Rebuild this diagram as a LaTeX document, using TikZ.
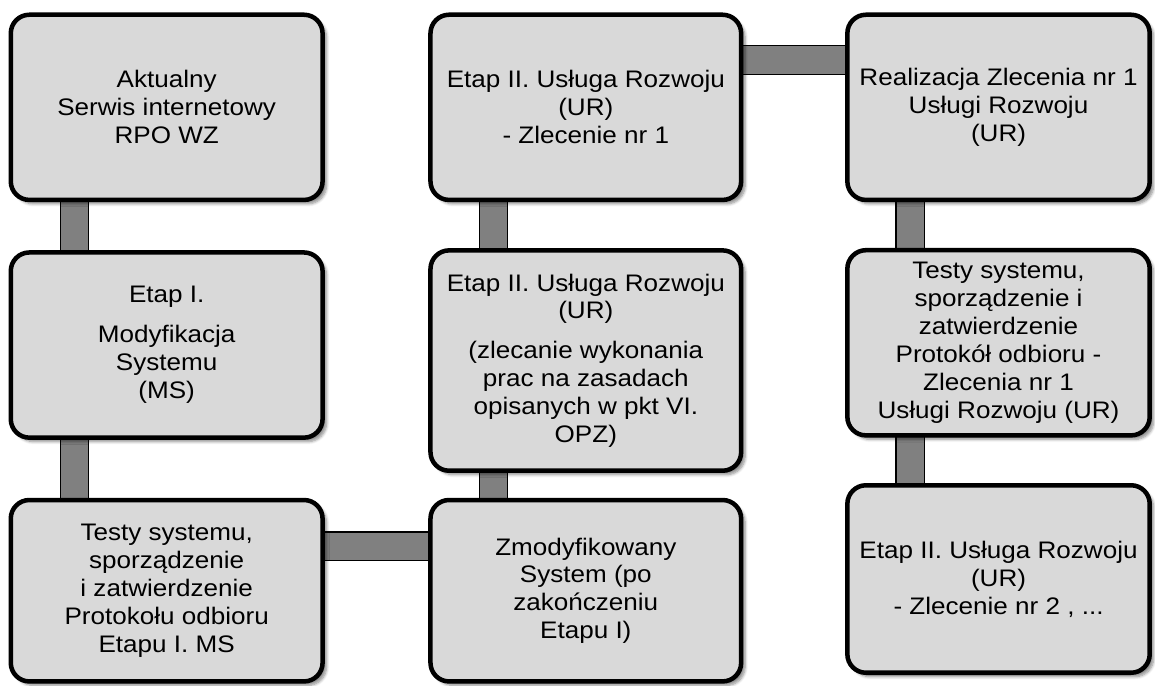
\documentclass[tikz,border=0pt]{standalone}
\usepackage{fontspec}
\setmainfont{Liberation Sans}[FakeStretch=1.09]
\usepackage{tikz}
\usetikzlibrary{positioning,backgrounds,shadows.blur}

\definecolor{boxgray}{HTML}{D9D9D9}
\definecolor{linkgray}{HTML}{808080}

\tikzset{
  stage/.style={draw, line width=3.4pt, rounded corners=14pt, fill=boxgray,
    align=center, font=\fontsize{18}{21}\selectfont,
    minimum width=8.25cm, minimum height=4.9cm,
    blur shadow={shadow xshift=3pt, shadow yshift=-3pt, shadow blur steps=6, shadow opacity=45}},
  link/.style={line width=0.8pt, double=linkgray, double distance=0.72cm,
    shorten <=-4pt, shorten >=-4pt}
}

\begin{document}
\begin{tikzpicture}
  \useasboundingbox (0,0) rectangle (30.56,18.15);

  % first column
  \node[stage] (akt) at (4.41,15.31) {Aktualny\\Serwis internetowy\\RPO WZ};
  \node[stage] (etap1) at (4.41,9.02) {Etap I.\\[9pt]Modyfikacja\\Systemu\\(MS)};
  \node[stage, minimum height=4.8cm] (testy1) at (4.41,2.52)
    {Testy systemu,\\sporządzenie\\ i zatwierdzenie\\Protokołu odbioru\\Etapu I. MS};

  % second column
  \node[stage, minimum width=8.22cm] (zlec1) at (15.50,15.31)
    {Etap II. Usługa Rozwoju\\(UR)\\- Zlecenie nr 1};
  \node[stage, minimum width=8.22cm, minimum height=5.83cm] (etap2) at (15.50,8.61)
    {Etap II. Usługa Rozwoju\\(UR)\\[9pt](zlecanie wykonania\\prac na zasadach\\opisanych w pkt VI.\\OPZ)};
  \node[stage, minimum width=8.22cm, minimum height=4.8cm] (zmod) at (15.50,2.52)
    {Zmodyfikowany\\System (po\\zakończeniu\\Etapu I)};

  % third column
  \node[stage, minimum width=8.0cm] (real1) at (26.42,15.31)
    {Realizacja Zlecenia nr 1\\Usługi Rozwoju\\(UR)};
  \node[stage, minimum width=8.0cm] (testy2) at (26.42,9.08)
    {Testy systemu,\\sporządzenie i\\zatwierdzenie\\Protokół odbioru -\\Zlecenia nr 1\\Usługi Rozwoju (UR)};
  \node[stage, minimum width=8.0cm, minimum height=4.96cm] (zlec2) at (26.42,2.83)
    {Etap II. Usługa Rozwoju\\(UR)\\- Zlecenie nr 2 , ...};

  % links between the stages
  \begin{scope}[on background layer]
    \draw[link] ([xshift=1.75cm]akt.south west) -- ([xshift=1.75cm]etap1.north west);
    \draw[link] ([xshift=1.75cm]etap1.south west) -- ([xshift=1.75cm]testy1.north west);
    \draw[link] ([xshift=1.72cm]zlec1.south west) -- ([xshift=1.72cm]etap2.north west);
    \draw[link] ([xshift=1.72cm]etap2.south west) -- ([xshift=1.72cm]zmod.north west);
    \draw[link] ([xshift=1.72cm]real1.south west) -- ([xshift=1.72cm]testy2.north west);
    \draw[link] ([xshift=1.72cm]testy2.south west) -- ([xshift=1.72cm]zlec2.north west);
    \draw[link] ([yshift=1.18cm]testy1.east) -- ([yshift=1.18cm]zmod.west);
    \draw[link] ([yshift=1.25cm]zlec1.east) -- ([yshift=1.25cm]real1.west);
  \end{scope}
\end{tikzpicture}
\end{document}
